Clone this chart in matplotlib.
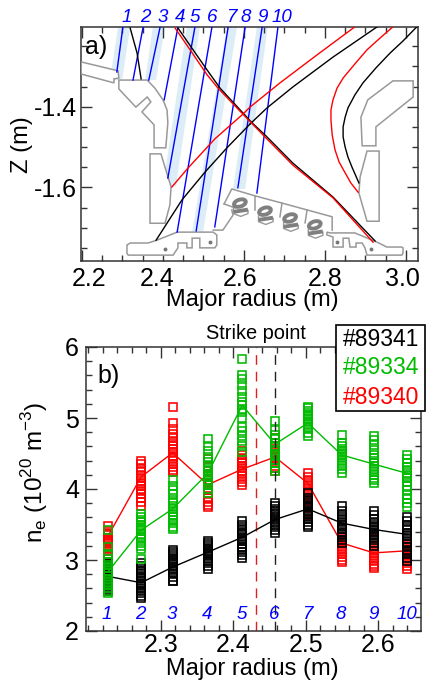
import matplotlib
matplotlib.use('Agg')
import matplotlib.pyplot as plt
from matplotlib.patches import Ellipse, Rectangle
from matplotlib.ticker import MultipleLocator
from matplotlib.transforms import ScaledTranslation
import numpy as np

plt.rcParams['font.family'] = ['Liberation Sans', 'DejaVu Sans']
plt.rcParams['mathtext.fontset'] = 'custom'
plt.rcParams['mathtext.rm'] = 'Liberation Sans'
plt.rcParams['axes.unicode_minus'] = False

BLACK = '#000000'
RED = '#FF0000'
GREEN = '#00BB00'
BLUE = '#0000FF'
WALL = '#999999'
BAND = '#DCEDF8'

# panel a: flux surfaces, (R, Z)
sep_black_leg = [(2.437, -1.205), (2.509, -1.309), (2.541, -1.354), (2.598, -1.416), (2.620, -1.440),
                 (2.652, -1.470), (2.721, -1.540), (2.820, -1.624), (2.924, -1.733)]
sep_black_right = [(2.615, -1.443), (2.657, -1.403), (2.721, -1.351), (2.820, -1.277), (2.929, -1.202)]
sep_black_low = [(2.615, -1.443), (2.558, -1.502), (2.504, -1.562), (2.447, -1.631), (2.383, -1.731)]
sep_black_far = [(3.027, -1.202), (2.993, -1.237), (2.961, -1.267), (2.926, -1.304), (2.894, -1.341),
                 (2.874, -1.371), (2.857, -1.403), (2.850, -1.426), (2.845, -1.450), (2.845, -1.475),
                 (2.850, -1.500), (2.857, -1.525), (2.867, -1.550), (2.884, -1.589)]
sep_black_top = [(2.319, -1.205), (2.336, -1.267), (2.346, -1.331)]
sep_red_leg = [(2.430, -1.205), (2.467, -1.259), (2.509, -1.321), (2.536, -1.354), (2.595, -1.416),
               (2.652, -1.475), (2.721, -1.545), (2.820, -1.626), (2.919, -1.736)]
sep_red_right = [(2.422, -1.599), (2.462, -1.552), (2.528, -1.480), (2.598, -1.418), (2.615, -1.401),
                 (2.689, -1.341), (2.780, -1.272), (2.874, -1.202)]
sep_red_far = [(2.968, -1.202), (2.936, -1.230), (2.904, -1.259), (2.874, -1.294), (2.845, -1.329),
               (2.830, -1.354), (2.820, -1.383), (2.815, -1.408), (2.815, -1.433), (2.818, -1.470),
               (2.825, -1.507), (2.835, -1.537), (2.850, -1.564), (2.864, -1.589), (2.882, -1.612)]

# lines of sight: R at top, R at bottom, Z at bottom
los_top = [2.301, 2.351, 2.393, 2.437, 2.479, 2.521, 2.561, 2.603, 2.645, 2.684]
los_bot = [2.286, 2.326, 2.365, 2.403, 2.412, 2.435, 2.482, 2.528, 2.585, 2.632]
los_zbot = [-1.314, -1.334, -1.334, -1.383, -1.577, -1.711, -1.708, -1.698, -1.601, -1.614]
los_label_r = [2.311, 2.356, 2.400, 2.442, 2.479, 2.521, 2.568, 2.605, 2.645, 2.694]
z_top = -1.2024

# shaded bands: top left, top right, bottom left, bottom right, Z bottom
bands = [(2.289, 2.319, 2.269, 2.299, -1.334),
         (2.375, 2.405, 2.356, 2.383, -1.334),
         (2.459, 2.491, 2.400, 2.432, -1.597),
         (2.558, 2.583, 2.472, 2.499, -1.711),
         (2.632, 2.659, 2.573, 2.603, -1.604)]

# machine wall
wall_port = [(2.198, -1.289), (2.289, -1.311), (2.291, -1.329), (2.279, -1.331), (2.279, -1.341), (2.198, -1.319)]
wall_baffle_in = [(2.291, -1.334), (2.361, -1.334), (2.380, -1.354), (2.400, -1.383), (2.410, -1.408),
                  (2.412, -1.440), (2.407, -1.502), (2.378, -1.502), (2.378, -1.445), (2.348, -1.413),
                  (2.370, -1.388), (2.361, -1.376), (2.333, -1.401), (2.291, -1.356)]
wall_plate_in = [(2.368, -1.517), (2.395, -1.517), (2.420, -1.599), (2.417, -1.644), (2.405, -1.689), (2.368, -1.689)]
wall_div_in = [(2.311, -1.743), (2.319, -1.738), (2.363, -1.738), (2.385, -1.731), (2.435, -1.711), (2.524, -1.711),
               (2.533, -1.718), (2.533, -1.743), (2.528, -1.750), (2.491, -1.750), (2.491, -1.726), (2.472, -1.726),
               (2.472, -1.750), (2.459, -1.750), (2.459, -1.738), (2.437, -1.738), (2.437, -1.750), (2.425, -1.768),
               (2.314, -1.768), (2.311, -1.763)]
wall_link = [(2.524, -1.706), (2.548, -1.706), (2.573, -1.669), (2.570, -1.656)]
wall_dome = [(2.551, -1.641), (2.570, -1.604), (2.627, -1.621), (2.694, -1.639), (2.756, -1.656), (2.818, -1.673),
             (2.818, -1.706)]
wall_dome_ribs = [[(2.551, -1.641), (2.578, -1.651)], [(2.627, -1.621), (2.627, -1.656)],
                  [(2.694, -1.639), (2.689, -1.673)], [(2.756, -1.656), (2.751, -1.688)]]
wall_div_out = [(2.805, -1.711), (2.813, -1.713), (2.874, -1.713), (2.929, -1.736), (2.953, -1.748), (2.990, -1.748),
                (2.993, -1.750), (2.993, -1.763), (2.990, -1.768), (2.904, -1.768), (2.899, -1.750), (2.892, -1.738),
                (2.877, -1.738), (2.877, -1.748), (2.862, -1.748), (2.859, -1.726), (2.845, -1.726), (2.845, -1.748),
                (2.820, -1.748), (2.820, -1.723), (2.805, -1.718)]
wall_baffle_out = [(2.968, -1.336), (3.018, -1.336), (3.018, -1.376), (2.926, -1.450), (2.926, -1.497),
                   (2.892, -1.497), (2.889, -1.426), (2.906, -1.383)]
wall_plate_out = [(2.904, -1.510), (2.934, -1.510), (2.934, -1.684), (2.904, -1.684), (2.884, -1.614), (2.887, -1.574)]
wall_dots = [(2.405, -1.753), (2.516, -1.735), (2.830, -1.736), (2.914, -1.753)]
coil_r = [2.590, 2.652, 2.714, 2.775]
coil_z = [-1.639, -1.659, -1.676, -1.693]

# panel b: channel radii and density per time slice
channels = ['1', '2', '3', '4', '5', '6', '7', '8', '9', '10']
radius = [2.227, 2.273, 2.3165, 2.365, 2.4125, 2.4577, 2.503, 2.5495, 2.594, 2.640]

mean_89341 = [2.77, 2.68, 2.90, 3.11, 3.32, 3.57, 3.72, 3.52, 3.43, 3.36]
mean_89334 = [2.83, 3.42, 3.72, 4.22, 5.18, 4.63, 4.93, 4.48, 4.35, 4.22]
mean_89340 = [3.33, 4.17, 4.51, 4.06, 4.28, 4.45, 4.08, 3.24, 3.10, 3.13]

ne_89341 = [
    [2.56, 2.58, 2.60, 2.63, 2.66, 2.70, 2.72, 2.76, 2.79, 2.82, 2.85, 2.88, 2.92, 2.95],
    [2.47, 2.50, 2.54, 2.57, 2.60, 2.63, 2.66, 2.68, 2.71, 2.74, 2.77, 2.81, 2.84, 2.88, 2.91, 2.96],
    [2.70, 2.71, 2.76, 2.80, 2.84, 2.87, 2.90, 2.93, 2.96, 2.99, 3.02, 3.05, 3.08, 3.11, 3.14],
    [2.88, 2.92, 2.96, 2.99, 3.02, 3.05, 3.08, 3.10, 3.12, 3.15, 3.18, 3.21, 3.24, 3.27],
    [3.03, 3.07, 3.11, 3.15, 3.19, 3.23, 3.27, 3.30, 3.33, 3.36, 3.39, 3.42, 3.46, 3.50, 3.55],
    [3.38, 3.42, 3.46, 3.49, 3.52, 3.55, 3.58, 3.60, 3.63, 3.66, 3.69, 3.72, 3.76, 3.80],
    [3.46, 3.50, 3.54, 3.58, 3.62, 3.65, 3.68, 3.71, 3.74, 3.77, 3.80, 3.84, 3.88, 3.94],
    [3.24, 3.28, 3.32, 3.36, 3.40, 3.43, 3.46, 3.50, 3.53, 3.56, 3.60, 3.64, 3.69, 3.76],
    [3.20, 3.24, 3.28, 3.32, 3.35, 3.38, 3.41, 3.44, 3.47, 3.50, 3.54, 3.58, 3.63, 3.69],
    [2.98, 3.03, 3.08, 3.13, 3.18, 3.22, 3.26, 3.30, 3.34, 3.38, 3.42, 3.46, 3.50, 3.55, 3.61],
]
ne_89334 = [
    [2.54, 2.57, 2.61, 2.65, 2.69, 2.73, 2.77, 2.81, 2.85, 2.89, 2.93, 2.97, 3.02, 3.08, 3.18, 3.42],
    [3.02, 3.16, 3.20, 3.24, 3.29, 3.33, 3.37, 3.41, 3.44, 3.47, 3.50, 3.53, 3.56, 3.60, 3.65],
    [3.43, 3.47, 3.52, 3.56, 3.60, 3.64, 3.68, 3.72, 3.76, 3.80, 3.85, 3.93, 3.99, 4.04, 4.12],
    [3.95, 4.00, 4.05, 4.09, 4.13, 4.17, 4.21, 4.25, 4.29, 4.33, 4.38, 4.45, 4.53, 4.60, 4.70],
    [4.52, 4.60, 4.68, 4.75, 4.82, 4.88, 5.00, 5.08, 5.13, 5.18, 5.22, 5.30, 5.38, 5.46, 5.55, 5.60, 5.83],
    [4.25, 4.30, 4.36, 4.41, 4.46, 4.50, 4.55, 4.60, 4.65, 4.70, 4.76, 4.83, 4.96],
    [4.74, 4.79, 4.84, 4.88, 4.92, 4.95, 4.98, 5.01, 5.04, 5.07, 5.10, 5.14, 5.16],
    [4.23, 4.28, 4.33, 4.37, 4.41, 4.45, 4.48, 4.51, 4.54, 4.57, 4.61, 4.65, 4.76],
    [4.08, 4.12, 4.16, 4.20, 4.24, 4.28, 4.32, 4.36, 4.40, 4.44, 4.48, 4.55, 4.62, 4.69, 4.75],
    [3.75, 3.80, 3.86, 3.92, 3.98, 4.04, 4.10, 4.15, 4.19, 4.23, 4.27, 4.31, 4.36, 4.42, 4.48],
]
ne_89340 = [
    [3.05, 3.09, 3.13, 3.16, 3.19, 3.22, 3.25, 3.28, 3.31, 3.35, 3.38, 3.41, 3.48],
    [3.76, 3.82, 3.88, 3.93, 3.97, 4.00, 4.04, 4.07, 4.11, 4.15, 4.20, 4.25, 4.30, 4.35, 4.39],
    [4.24, 4.27, 4.31, 4.35, 4.39, 4.43, 4.47, 4.52, 4.56, 4.60, 4.64, 4.68, 4.72, 4.78, 4.85, 4.93, 5.15],
    [3.74, 3.78, 3.82, 3.87, 3.95, 3.99, 4.02, 4.05, 4.08, 4.12, 4.18, 4.25, 4.33, 4.42],
    [4.05, 4.10, 4.14, 4.18, 4.22, 4.26, 4.30, 4.33, 4.36, 4.40, 4.44, 4.48, 4.53],
    [4.25, 4.29, 4.33, 4.37, 4.40, 4.43, 4.46, 4.49, 4.52, 4.56, 4.60, 4.65, 4.72],
    [3.63, 3.68, 3.73, 3.78, 3.83, 3.88, 3.92, 3.96, 4.00, 4.04, 4.08, 4.12, 4.17, 4.22],
    [2.97, 3.00, 3.04, 3.09, 3.13, 3.16, 3.19, 3.22, 3.25, 3.28, 3.31],
    [2.89, 2.92, 2.95, 2.99, 3.03, 3.07, 3.10, 3.13, 3.16, 3.20, 3.24, 3.29],
    [2.88, 2.91, 2.96, 3.00, 3.04, 3.07, 3.10, 3.13, 3.16, 3.20],
]

strike_red = 2.431
strike_black = 2.4577
legend_shots = ['#89341', '#89334', '#89340']
legend_colors = [BLACK, GREEN, RED]

W, H = 426, 680
fig = plt.figure(figsize=(W / 100, H / 100), dpi=100)
ax1 = fig.add_axes([81 / W, 1 - 261 / H, 337 / W, 234 / H])
ax2 = fig.add_axes([86 / W, 1 - 631 / H, 335 / W, 284 / H])


def line(ax, pts, color, lw=1.0, **kw):
    arr = np.array(pts)
    ax.plot(arr[:, 0], arr[:, 1], color=color, lw=lw, **kw)


def shape(ax, pts):
    arr = np.array(pts)
    ax.fill(arr[:, 0], arr[:, 1], facecolor='white', edgecolor=WALL, lw=1.1, zorder=3)


# ---- panel a
for tl, tr, bl, br, zb in bands:
    ax1.fill([tl, tr, br, bl], [z_top, z_top, zb, zb], color=BAND, lw=0, zorder=1)

for wall in [wall_port, wall_baffle_in, wall_plate_in, wall_div_in, wall_div_out, wall_baffle_out, wall_plate_out]:
    shape(ax1, wall)
line(ax1, wall_link, WALL, 1.1, zorder=3)
line(ax1, wall_dome, WALL, 1.1, zorder=3)
for rib in wall_dome_ribs:
    line(ax1, rib, WALL, 1.1, zorder=3)
for r, z in wall_dots:
    ax1.plot(r, z, 'o', color='#777777', ms=1.8, zorder=3)
for r, z in zip(coil_r, coil_z):
    ax1.add_patch(Ellipse((r, z), 0.030, 0.017, angle=18, fc='white', ec='#808080', lw=2.8, zorder=4))
    ax1.plot([r - 0.016, r - 0.016, r + 0.002, r + 0.020, r + 0.020],
             [z - 0.012, z - 0.026, z - 0.033, z - 0.026, z - 0.018], color=WALL, lw=1.0, zorder=3)
    ax1.plot([r - 0.011, r + 0.015], [z - 0.021, z - 0.017], color='#808080', lw=2.8, zorder=4)

for top, bot, zb in zip(los_top, los_bot, los_zbot):
    ax1.plot([top, bot], [z_top, zb], color=BLUE, lw=1.0, zorder=5)

for s in [sep_black_top, sep_black_leg, sep_black_right, sep_black_low, sep_black_far]:
    line(ax1, s, BLACK, zorder=6)
for s in [sep_red_leg, sep_red_right, sep_red_far]:
    line(ax1, s, RED, zorder=7)

for lab, r in zip(channels, los_label_r):
    ax1.text(r, 1.005, lab, transform=ax1.get_xaxis_transform(), color=BLUE, style='italic',
             fontsize=13.5, ha='center', va='bottom')
ax1.text(0.012, 0.915, 'a)', transform=ax1.transAxes, fontsize=18, ha='left', va='center', zorder=8)

ax1.set_xlim(2.1975, 3.030)
ax1.set_ylim(-1.7826, z_top)
ax1.xaxis.set_minor_locator(MultipleLocator(0.05))
ax1.yaxis.set_minor_locator(MultipleLocator(0.05))
ax1.set_xticks([2.2, 2.4, 2.6, 2.8, 3.0])
ax1.set_xticklabels(['2.2', '2.4', '2.6', '2.8', '3.0'])
ax1.set_yticks([-1.4, -1.6])
ax1.set_yticklabels(['-1.4', '-1.6'])
ax1.set_xlabel('Major radius (m)', fontsize=17, labelpad=-1)
ax1.set_ylabel('Z (m)', fontsize=17)
ax1.xaxis.label.set_x(0.507)
ax1.yaxis.set_label_coords(-0.143, 0.496)

# ---- panel b
ax2.axvline(strike_red, color='#E02020', lw=1.0, dashes=(7, 5), zorder=1)
ax2.axvline(strike_black, color='#222222', lw=1.0, dashes=(7, 5), zorder=6)

for vals, mean, col, z in [(ne_89340, mean_89340, RED, 2), (ne_89341, mean_89341, BLACK, 3), (ne_89334, mean_89334, GREEN, 4)]:
    for r, col_vals in zip(radius, vals):
        ax2.plot([r] * len(col_vals), col_vals, 's', mfc='none', mec=col, ms=6.3, mew=1.15, zorder=z)
    ax2.plot(radius, mean, '-', color=col, lw=1.0, zorder=z)

for lab, r in zip(channels, radius):
    ax2.text(r - 0.001, 2.11, lab, color=BLUE, style='italic', fontsize=13.5, ha='center', va='bottom', zorder=7)

ax2.text(0.035, 0.897, 'b)', transform=ax2.transAxes, fontsize=18, ha='left', va='center', zorder=8)
ax2.text(2.4315, 6.19, 'Strike point', fontsize=14.4, ha='center', va='center')

ax2.set_xlim(2.197, 2.659)
ax2.set_ylim(2, 6)
ax2.xaxis.set_minor_locator(MultipleLocator(0.02))
ax2.yaxis.set_minor_locator(MultipleLocator(0.2))
ax2.set_xticks([2.3, 2.4, 2.5, 2.6])
ax2.set_xticklabels(['2.3', '2.4', '2.5', '2.6'])
ax2.set_yticks([2, 3, 4, 5, 6])
ax2.set_xlabel('Major radius (m)', fontsize=17, labelpad=1)
ax2.set_ylabel(r'n$_{\rm e}$ (10$^{20}$ m$^{-3}$)', fontsize=17.5)
ax2.xaxis.label.set_x(0.497)
ax2.yaxis.set_label_coords(-0.107, 0.56)

for ax in [ax1, ax2]:
    ax.tick_params(which='major', direction='in', length=8, width=1.0, top=True, right=True,
                   labelsize=18, color='#333333')
    ax.tick_params(which='minor', direction='in', length=4, width=1.0, top=True, right=True, color='#333333')
    for sp in ax.spines.values():
        sp.set_linewidth(1.1)
        sp.set_color('#333333')
ax1.tick_params(axis='x', which='major', pad=4)
ax1.tick_params(axis='y', which='major', pad=3)
ax2.tick_params(axis='x', which='major', pad=1.5)
ax2.tick_params(axis='y', which='major', pad=5)

# panel a tick labels sit a few pixels off their ticks in the original
for lab, dx in zip(ax1.get_xticklabels(), [7, -6, -4, 0, -3]):
    lab.set_transform(lab.get_transform() + ScaledTranslation(dx / 100, 0, fig.dpi_scale_trans))

# legend box sits over the top right corner of panel b
fig.add_artist(Rectangle((336 / W, 1 - 411 / H), 89 / W, 86 / H, transform=fig.transFigure,
                         fc='white', ec='black', lw=1.2, zorder=10))
for shot, col, py in zip(legend_shots, legend_colors, [339, 368, 397]):
    fig.text(343 / W, 1 - py / H, shot, color=col, fontsize=16.5, ha='left', va='center', zorder=11)

fig.savefig('out.png', dpi=100)
